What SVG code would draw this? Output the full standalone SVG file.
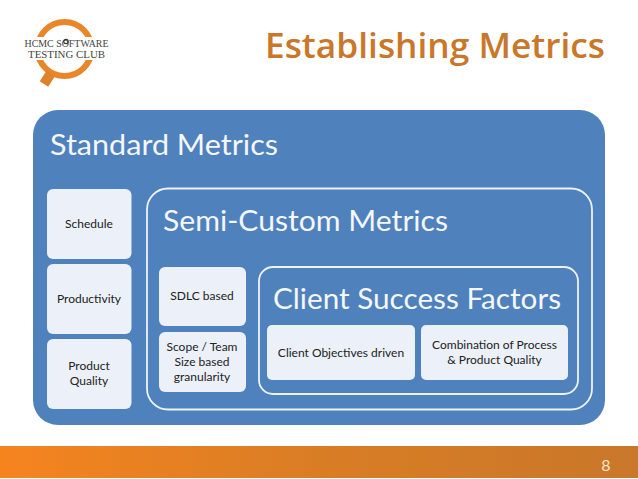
<svg xmlns="http://www.w3.org/2000/svg" width="638" height="479" viewBox="0 0 638 479">
<style>
text{font-family:Lato,"Open Sans","Liberation Sans",sans-serif}
.box{fill:#ebf0f9}
.frame{fill:none;stroke:#eef3fa;stroke-width:1.8}
.h{fill:#f4f7fb}
.l{fill:#222;font-size:12px;text-anchor:middle}
.logo{font-family:"Liberation Serif","DejaVu Serif",serif;font-size:11px;fill:#444;text-anchor:middle}
</style>
<defs>
<linearGradient id="bar" x1="0" x2="1" y1="0" y2="0"><stop offset="0" stop-color="#f5841f"/><stop offset="0.5" stop-color="#d97d25"/><stop offset="1" stop-color="#c9772a"/></linearGradient>
</defs>
<rect width="638" height="479" fill="#fff"/>
<g id="logo">
<circle cx="64.500" cy="49" r="27" fill="none" stroke="#e8862a" stroke-width="6"/>
<path d="M51 73 L44 84" stroke="#e0822c" stroke-width="10" fill="none"/>
<rect x="24" y="37" width="86" height="23" fill="#fff"/>
<text class="logo" x="66.500" y="47" textLength="84" lengthAdjust="spacingAndGlyphs">HCMC SOFTWARE</text>
<text class="logo" x="66.500" y="57.500" textLength="77" lengthAdjust="spacingAndGlyphs">TESTING CLUB</text>
<circle cx="66" cy="41.500" r="2.200" fill="none" stroke="#333" stroke-width="1.200"/>
</g>
<text id="title" x="265" y="58" font-size="35" font-weight="600" style="font-family:'Open Sans',Lato,sans-serif" fill="#c9772b" textLength="340" lengthAdjust="spacingAndGlyphs">Establishing Metrics</text>
<g id="standard">
<rect x="33" y="110" width="572" height="315" rx="25" fill="#4f81bd"/>
<text class="h" x="50" y="155" font-size="29" textLength="228" lengthAdjust="spacingAndGlyphs">Standard Metrics</text>
</g>
<g id="schedule"><rect class="box" x="47" y="189" width="84.500" height="70" rx="6"/><text class="l" x="89" y="228">Schedule</text></g>
<g id="productivity"><rect class="box" x="47" y="264" width="84.500" height="70" rx="6"/><text class="l" x="89" y="303">Productivity</text></g>
<g id="quality"><rect class="box" x="47" y="339" width="84.500" height="70" rx="6"/><text class="l" x="89" y="370">Product</text><text class="l" x="89" y="385">Quality</text></g>
<g id="semi">
<rect class="frame" x="147" y="188.500" width="445" height="221" rx="21"/>
<text class="h" x="163" y="231" font-size="29" textLength="285" lengthAdjust="spacingAndGlyphs">Semi-Custom Metrics</text>
</g>
<g id="sdlc"><rect class="box" x="159" y="267" width="87" height="59" rx="6"/><text class="l" x="202" y="300">SDLC based</text></g>
<g id="scope"><rect class="box" x="159" y="332" width="87" height="60" rx="6"/><text class="l" x="202" y="351">Scope / Team</text><text class="l" x="202" y="366">Size based</text><text class="l" x="202" y="381">granularity</text></g>
<g id="client">
<rect class="frame" x="259" y="267" width="319" height="127" rx="14"/>
<text class="h" x="273" y="309" font-size="29" textLength="288" lengthAdjust="spacingAndGlyphs">Client Success Factors</text>
</g>
<g id="objectives"><rect class="box" x="267" y="325" width="148" height="55" rx="5"/><text class="l" x="341" y="357">Client Objectives driven</text></g>
<g id="combination"><rect class="box" x="421" y="325" width="147" height="55" rx="5"/><text class="l" x="494.500" y="349">Combination of Process</text><text class="l" x="494.500" y="364">&amp; Product Quality</text></g>
<g id="footer">
<rect x="0" y="446" width="638" height="32" fill="url(#bar)"/>
<text x="606" y="471" font-size="16" fill="#fbe6cf" text-anchor="middle">8</text>
</g>
<g id="connectors"/>
</svg>
